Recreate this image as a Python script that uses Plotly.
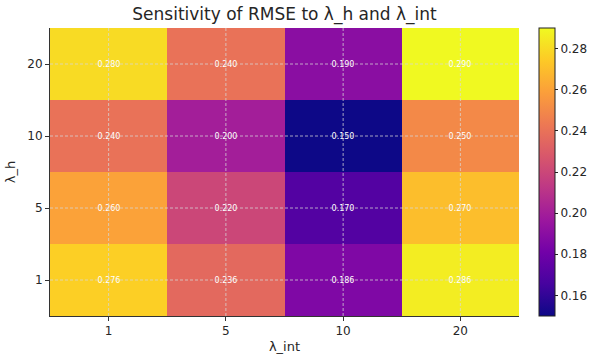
import plotly.graph_objects as go

lambda_int = ["1", "5", "10", "20"]
lambda_h = ["1", "5", "10", "20"]
# rows follow lambda_h (bottom to top)
rmse_h1 = [0.276, 0.236, 0.186, 0.286]
rmse_h5 = [0.260, 0.220, 0.170, 0.270]
rmse_h10 = [0.240, 0.200, 0.150, 0.250]
rmse_h20 = [0.280, 0.240, 0.190, 0.290]
z = [rmse_h1, rmse_h5, rmse_h10, rmse_h20]
cbar_ticks = [0.16, 0.18, 0.20, 0.22, 0.24, 0.26, 0.28]

font_fam = "DejaVu Sans"
txt_col = "#262626"
grid_col = "rgba(215,215,215,0.75)"

fig = go.Figure()
fig.add_trace(go.Heatmap(
    x=lambda_int, y=lambda_h, z=z,
    colorscale="Plasma", zmin=min(min(r) for r in z), zmax=max(max(r) for r in z),
    texttemplate="%{z:.3f}", textfont=dict(color="white", size=8, family=font_fam),
    xgap=0, ygap=0,
    colorbar=dict(
        x=1.0426, xanchor="left", xpad=0, ypad=0, y=0.5, yanchor="middle", len=1, lenmode="fraction",
        thickness=16, outlinewidth=1, outlinecolor="#222222",
        tickvals=cbar_ticks, ticktext=[f"{v:.2f}" for v in cbar_ticks],
        ticks="outside", ticklen=3, tickcolor="#222222",
        tickfont=dict(size=12, color=txt_col, family=font_fam),
    ),
))

# dashed gridlines over the heatmap at category centres
for i in range(len(lambda_int)):
    fig.add_shape(type="line", xref="x", yref="paper", x0=i, x1=i, y0=0, y1=1,
                  line=dict(color=grid_col, width=1, dash="3px,2px"), layer="above")
for j in range(len(lambda_h)):
    fig.add_shape(type="line", xref="paper", yref="y", x0=0, x1=1, y0=j, y1=j,
                  line=dict(color=grid_col, width=1, dash="3px,2px"), layer="above")

fig.update_layout(
    width=598, height=358,
    margin=dict(l=50, r=79, t=28, b=42, autoexpand=False),
    paper_bgcolor="white", plot_bgcolor="white",
    font=dict(family=font_fam, color=txt_col),
    title=dict(text="Sensitivity of RMSE to λ_h and λ_int", x=284.5 / 598,
               xanchor="center", y=1 - 14 / 358, yanchor="middle",
               font=dict(size=17, color=txt_col, family=font_fam)),
    xaxis=dict(type="category", title=dict(text="λ_int", font=dict(size=13), standoff=4),
               tickfont=dict(size=12), ticks="outside", ticklen=4, tickcolor="#333",
               showline=True, linecolor="#333", linewidth=1, showgrid=False, mirror=False),
    yaxis=dict(type="category", title=dict(text="λ_h", font=dict(size=13), standoff=8),
               tickfont=dict(size=12), ticks="outside", ticklen=4, tickcolor="#333",
               showline=True, linecolor="#333", linewidth=1, showgrid=False),
)

fig.write_html("out.html", config={"displayModeBar": False},
               post_script="document.body.style.margin='0';document.body.style.padding='0';")
